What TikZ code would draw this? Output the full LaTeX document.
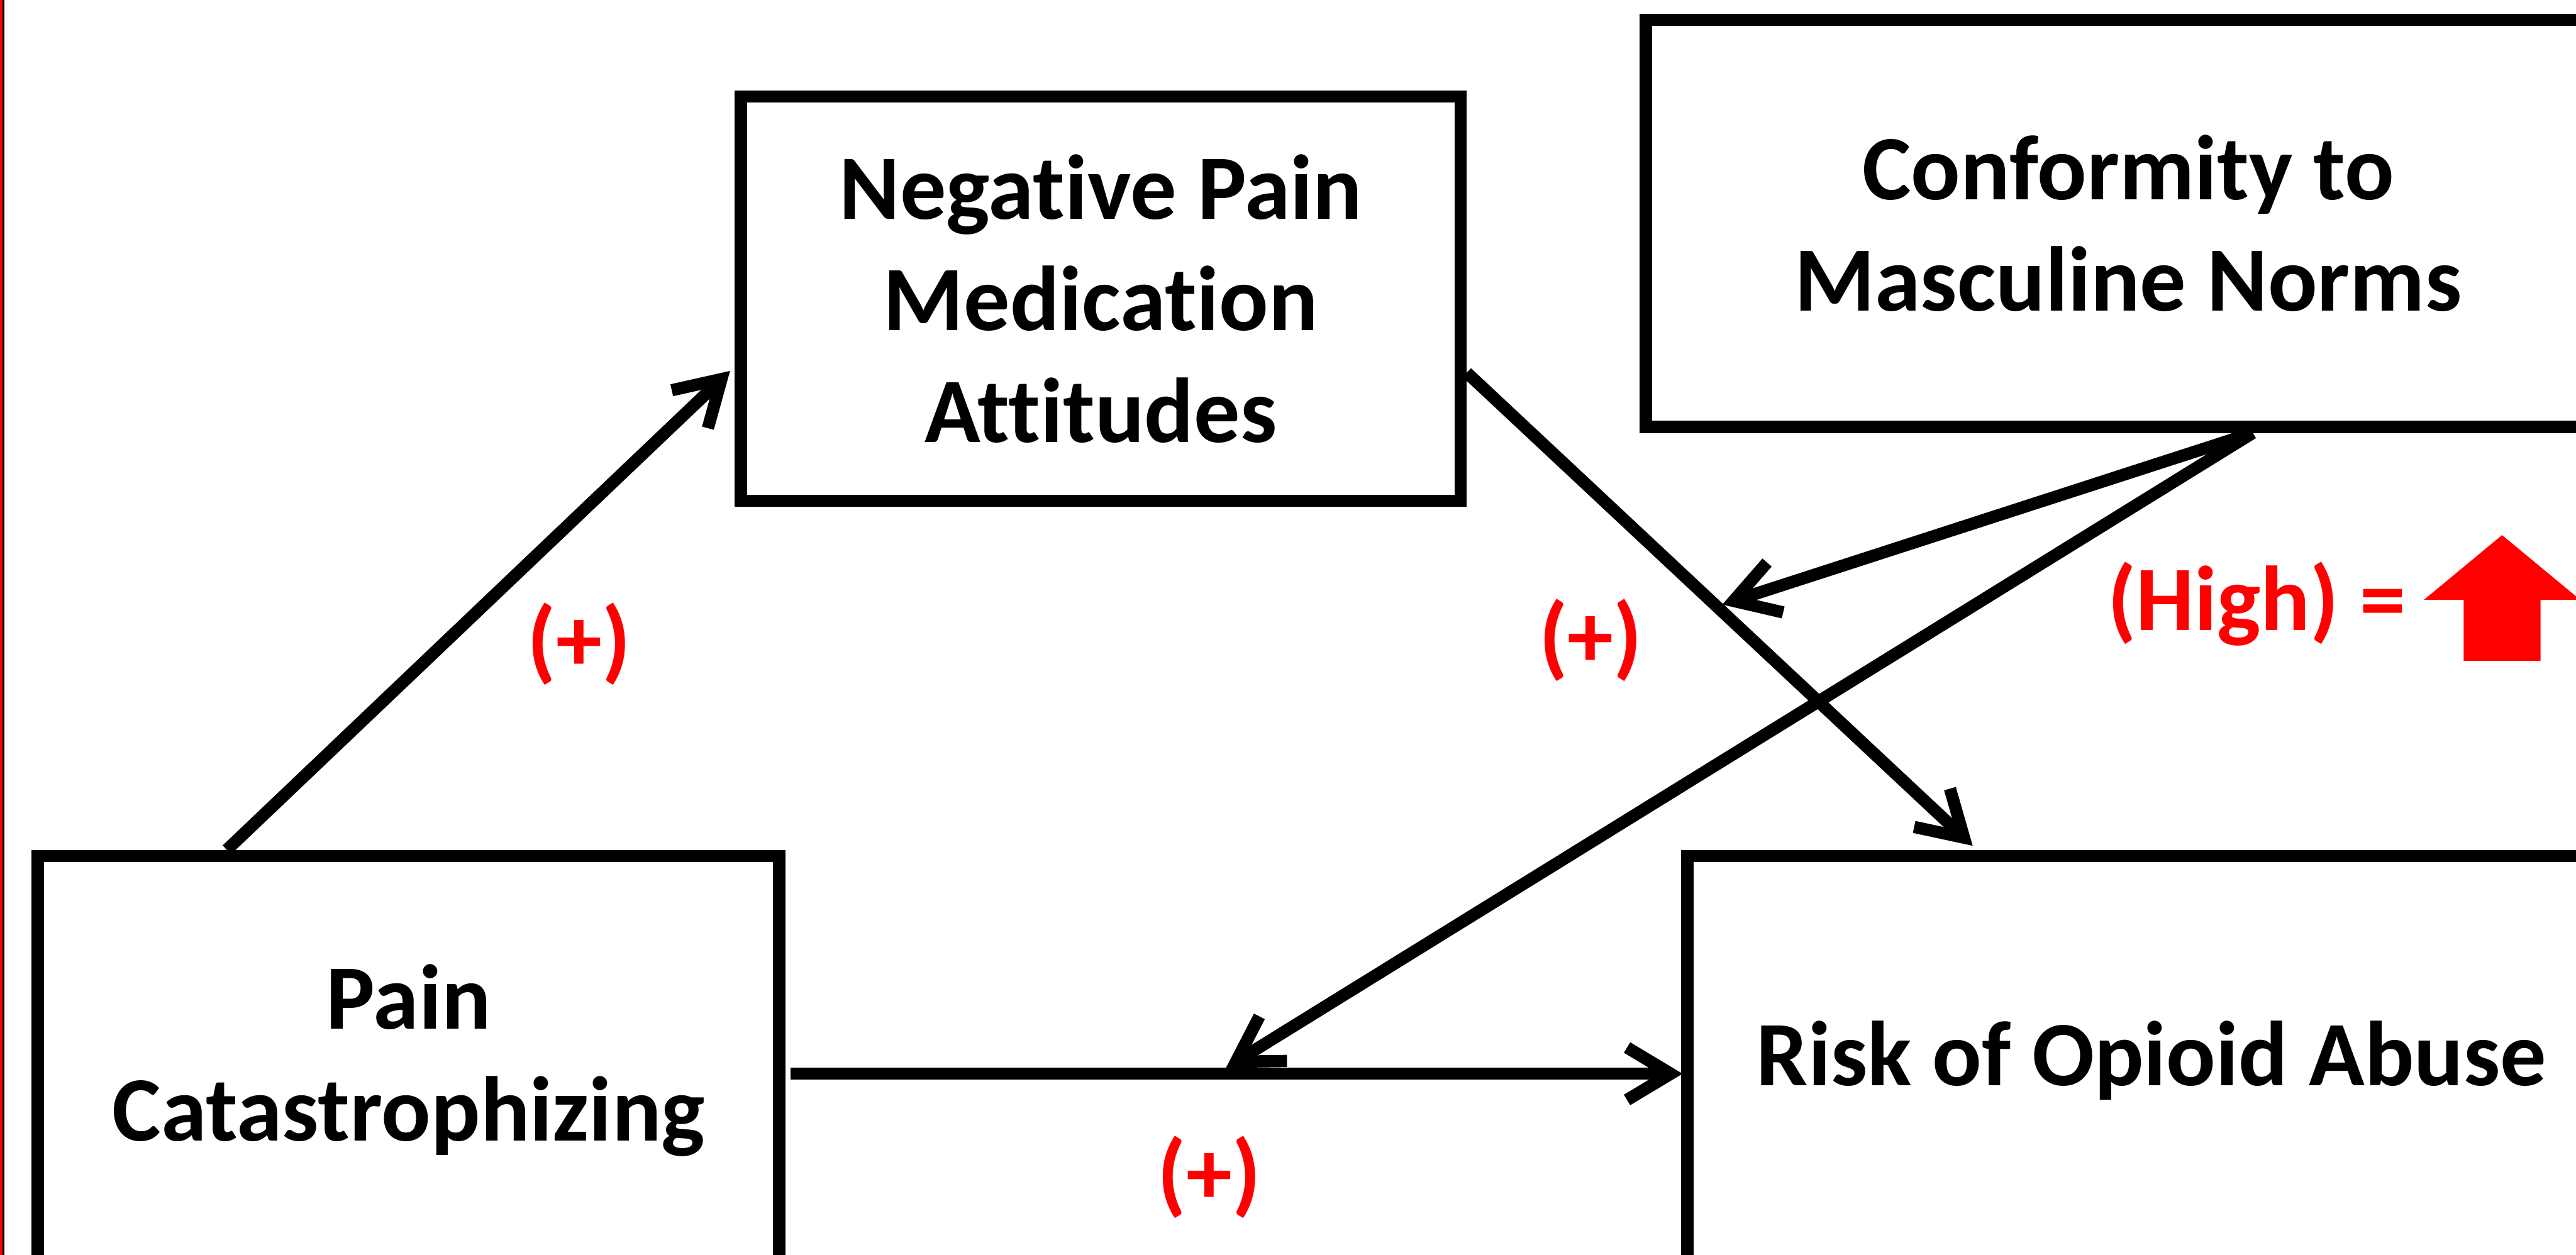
\documentclass[tikz,border=0pt]{standalone}
\usepackage{fontspec}
\setmainfont{Carlito}[Ligatures={NoCommon,NoContextual}]
\usetikzlibrary{arrows.meta,positioning,calc}
\definecolor{signred}{HTML}{FF0000}
\newcommand\boxfont{\fontsize{45}{54.6}\selectfont\bfseries}
\tikzset{
  box/.style={draw, line width=2.1mm, inner sep=0pt, align=center, font=\boxfont},
  line/.style={-{Straight Barb[length=7.5mm,width=9mm]}, line width=2.1mm},
  sign/.style={text=signred, inner sep=0pt, font=\boxfont}
}

\begin{document}
\begin{tikzpicture}
  \useasboundingbox (0,0) rectangle (44.23,21.55);
  \clip (0,0) rectangle (44.23,21.55);
  % slide edge
  \fill[signred] (0,0) rectangle (0.04,21.55);
  \fill[black] (0.04,0) rectangle (0.08,21.55);

  \node[box, minimum width=12.73cm, minimum height=7.02cm] (pc) at (7.015,3.34) {Pain\\Catastrophizing};
  \node[box, minimum width=15.94cm, minimum height=7.02cm, right=15.38cm of pc] (roa) {Risk of Opioid Abuse};
  \node[box, minimum width=12.36cm, minimum height=6.94cm] (npma) at (18.90,16.42) {Negative Pain\\Medication\\Attitudes};
  \node[box, minimum width=16.56cm, minimum height=6.99cm] (cmn) at (36.54,17.715) {Conformity to\\Masculine Norms};

  \draw[line] ([xshift=-3.12cm]pc.north) -- ([xshift=-0.08cm,yshift=-1.24cm]npma.west);
  \draw[line] ([yshift=-1.27cm]npma.east) -- ([xshift=-3.07cm,yshift=0.07cm]roa.north) coordinate[pos=0.505] (medpath);
  \draw[line] ([xshift=0.9mm,yshift=-2.3mm]pc.east) -- ([xshift=0.25mm,yshift=-2.3mm]roa.west) coordinate[pos=0.488] (directpath);

  % moderation
  \draw[line] ([xshift=2.14cm]cmn.south) -- ([yshift=1.2mm]medpath);
  \draw[line] ([xshift=2.14cm]cmn.south) -- ([yshift=1mm]directpath);

  \node[sign] (s1) at (9.94,10.49) {(+)};
  \node[sign] (s2) at (27.31,10.55) {(+)};
  \node[sign] (s3) at (20.76,1.33) {(+)};
  \node[sign, anchor=base west] (high) at (36.18,10.73) {(High) =};
  \fill[signred] (42.96,12.36) -- (44.30,11.25) -- (43.62,11.25) -- (43.62,10.20)
    -- (42.30,10.20) -- (42.30,11.25) -- (41.62,11.25) -- cycle;
\end{tikzpicture}
\end{document}
